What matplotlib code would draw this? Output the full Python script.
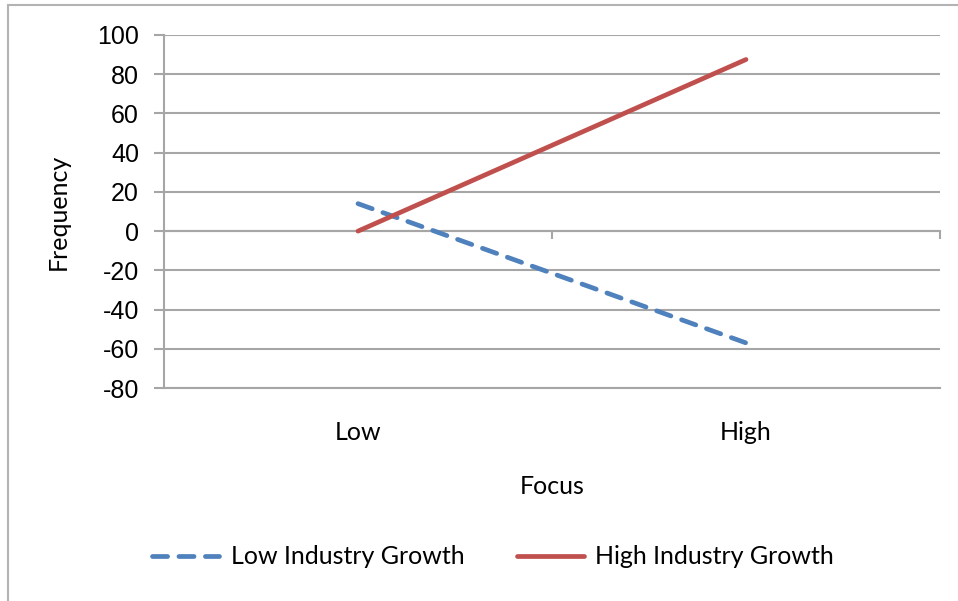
import matplotlib
matplotlib.use("Agg")
import matplotlib.pyplot as plt
from matplotlib.patches import Rectangle

plt.rcParams["axes.unicode_minus"] = False

# data
categories = ["Low", "High"]
low_growth = [14, -57]
high_growth = [0, 87.5]
series_names = ["Low Industry Growth", "High Industry Growth"]
y_ticks = [-80, -60, -40, -20, 0, 20, 40, 60, 80, 100]

grid_col = "#a6a6a6"
blue = "#4f81bd"
red = "#c0504d"
txt_font = "Lato"

fig = plt.figure(figsize=(9.58, 6.01), dpi=100)
ax = fig.add_axes([164 / 958, 1 - 388 / 601, (940 - 164) / 958, (388 - 35) / 601])

x = list(range(len(categories)))
ax.plot(x, low_growth, color=blue, lw=3.4, linestyle=(0, (3.2, 2.4)),
        dash_capstyle="round", label=series_names[0], zorder=3)
ax.plot(x, high_growth, color=red, lw=3.4, solid_capstyle="round",
        label=series_names[1], zorder=3)

ax.set_xlim(-0.5, len(categories) - 0.5)
ax.set_ylim(y_ticks[0], y_ticks[-1])
ax.set_yticks(y_ticks)
ax.yaxis.grid(True, color=grid_col, lw=1.5)
ax.set_axisbelow(True)

for s in ["top", "right"]:
    ax.spines[s].set_visible(False)
ax.spines["left"].set_color(grid_col)
ax.spines["left"].set_linewidth(1.5)
ax.spines["bottom"].set_color(grid_col)
ax.spines["bottom"].set_linewidth(1.5)

ax.tick_params(axis="y", direction="out", length=7, width=1.5, color=grid_col,
               pad=11, labelsize=18)
for lab in ax.get_yticklabels():
    lab.set_fontfamily("Liberation Sans")

ax.set_xticks(x)
ax.set_xticklabels(categories, fontsize=18, fontfamily=txt_font)
ax.tick_params(axis="x", length=0, pad=24)

# category axis running along zero, with boundary ticks
zero_pos = (0 - y_ticks[0]) / (y_ticks[-1] - y_ticks[0])
sec = ax.secondary_xaxis(zero_pos)
sec.set_xticks([i - 0.5 for i in range(len(categories) + 1)])
sec.set_xticklabels([])
sec.tick_params(direction="out", length=6, width=1.5, color=grid_col)
sec.spines["bottom"].set_color(grid_col)
sec.spines["bottom"].set_linewidth(1.5)

ax.set_xlabel("Focus", fontsize=18, fontfamily=txt_font, labelpad=22)
ax.set_ylabel("Frequency", fontsize=18, fontfamily=txt_font, labelpad=20)

fig.legend(loc="center", bbox_to_anchor=(493 / 958, 1 - 557 / 601), ncol=2, frameon=False,
           prop={"family": txt_font, "size": 18}, handlelength=2.7,
           handletextpad=0.45, columnspacing=2.1)

# chart area border (cut off on right and bottom)
fig.patches.append(Rectangle((8 / 958, -0.05), 1.1, 1 - 5 / 601 + 0.05,
                             transform=fig.transFigure, fill=False,
                             edgecolor="#b3b3b3", lw=1.5, zorder=0))

fig.savefig("out.png", dpi=100)
